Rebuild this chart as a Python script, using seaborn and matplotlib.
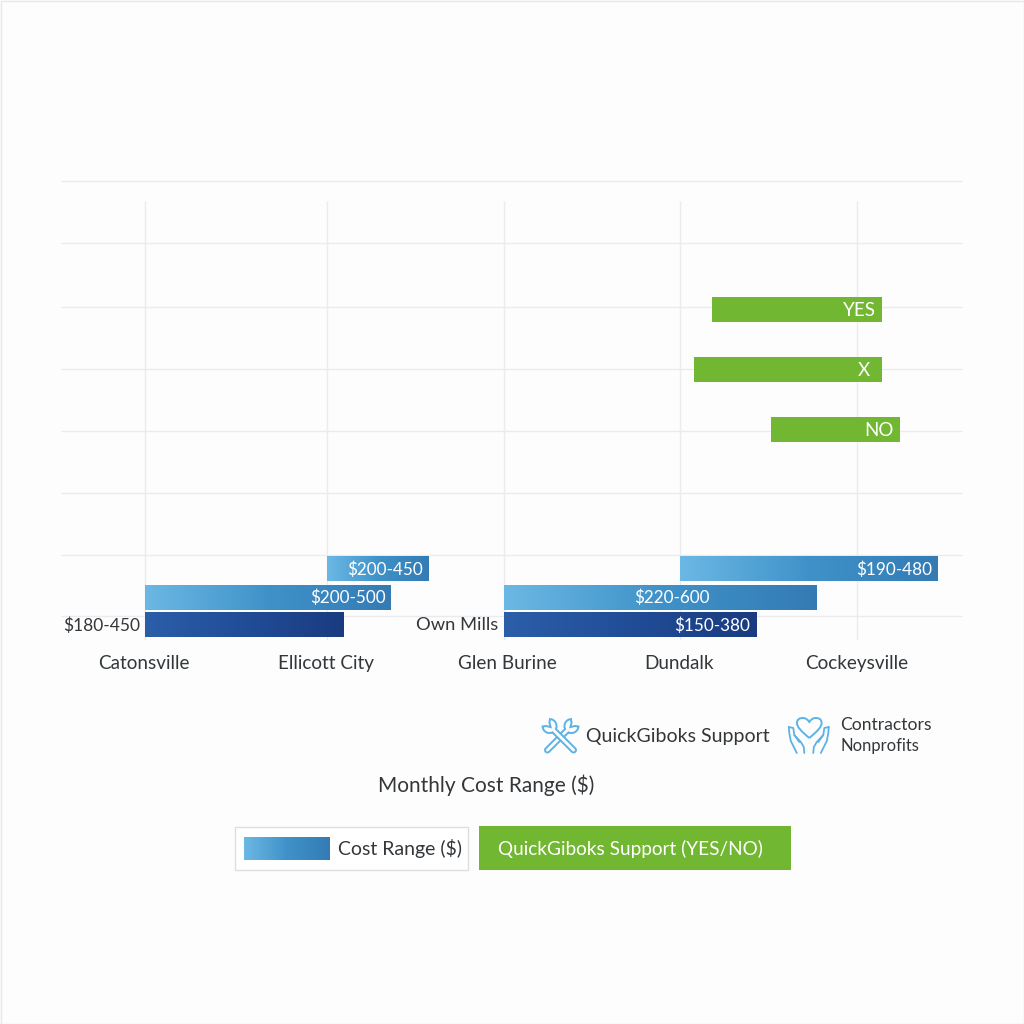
import numpy as np
import matplotlib
matplotlib.use("Agg")
import matplotlib.pyplot as plt
from matplotlib.colors import LinearSegmentedColormap
from matplotlib.patches import Rectangle, Polygon, PathPatch
from matplotlib.path import Path
from matplotlib.transforms import ScaledTranslation
import seaborn as sns

sns.set_theme(style="white")
plt.rcParams["font.family"] = ["Lato", "DejaVu Sans"]

# Town axis
towns = ["Catonsville", "Ellicott City", "Glen Burine", "Dundalk", "Cockeysville"]
town_positions = [0.0, 1.022, 2.017, 3.006, 4.0]
town_label_nudge = [-1, -1, 3, -1, 0]

# Cost range bars
dark_left = [0.0, 2.017]
dark_right = [1.113, 3.438]
dark_row = -0.13
dark_labels = ["", "$150-380"]

mid_left = [0.0, 2.017]
mid_right = [1.382, 3.770]
mid_row = 0.31
mid_labels = ["$200-500", "$220-600"]

top_left = [1.022, 3.006]
top_right = [1.590, 4.455]
top_row = 0.77
top_labels = ["$200-450", "$190-480"]

# QuickBooks support bars
support_left = [3.185, 3.084, 3.517]
support_right = [4.140, 4.140, 4.242]
support_rows = [4.955, 3.985, 3.02]
support_labels = ["YES", "X", "NO"]

grid_rows = [0.01, 1, 2, 3, 4, 5, 6.03, 7.03]

BG = "#fdfdfd"
GRID = "#e9ebee"
TEXT = "#33373a"
GREEN = "#72b731"
light_cmap = LinearSegmentedColormap.from_list("light", ["#6cb8e4", "#3f92c9", "#347bb4"])
navy_cmap = LinearSegmentedColormap.from_list("navy", ["#2c5ea9", "#214d97", "#1a3b80"])

fig = plt.figure(figsize=(10.24, 10.24), dpi=100, facecolor=BG)
W = H = 1024.0
ax_left, ax_right, ax_top, ax_bottom = 61, 962, 180, 640
ax = fig.add_axes([ax_left / W, 1 - ax_bottom / H, (ax_right - ax_left) / W, (ax_bottom - ax_top) / H])
ax.set_facecolor("none")

xlim = ((ax_left - 145.0) / 178.0, (ax_right - 145.0) / 178.0)
ylim = ((616.5 - ax_bottom) / 62.0, (616.5 - ax_top) / 62.0)
BAR_H = 0.395


def draw_bar(left, right, row, color, cmap=None):
    sns.barplot(x=[right - left], y=[row], left=left, orient="h", native_scale=True,
                width=BAR_H, color=color, saturation=1, errorbar=None, ax=ax,
                linewidth=0, zorder=3)
    ax.set_xlim(*xlim)
    ax.set_ylim(*ylim)
    if cmap is not None:
        gradient = np.linspace(0, 1, 256).reshape(1, -1)
        ax.imshow(gradient, cmap=cmap, aspect="auto", zorder=4, interpolation="bilinear",
                  extent=(left, right, row - BAR_H / 2, row + BAR_H / 2))
        ax.set_xlim(*xlim)
        ax.set_ylim(*ylim)


for l, r in zip(dark_left, dark_right):
    draw_bar(l, r, dark_row, "#214d97", navy_cmap)
for l, r in zip(mid_left, mid_right):
    draw_bar(l, r, mid_row, "#3f92c9", light_cmap)
for l, r in zip(top_left, top_right):
    draw_bar(l, r, top_row, "#3f92c9", light_cmap)
for l, r, row in zip(support_left, support_right, support_rows):
    draw_bar(l, r, row, GREEN)

# The vertical gridlines stop short of the top rule
ax.hlines(grid_rows, *xlim, color=GRID, lw=1.0, zorder=1, clip_on=False)
ax.vlines(town_positions, ylim[0], (616.5 - 201) / 62.0, color=GRID, lw=1.0, zorder=1)

for s in ax.spines.values():
    s.set_visible(False)
ax.set_xlabel("")
ax.set_ylabel("")
ax.set_yticks([])
ax.set_xticks(town_positions, towns)
ax.tick_params(axis="x", length=0, pad=11, labelsize=13.6, labelcolor=TEXT)
for tick_label, nudge in zip(ax.get_xticklabels(), town_label_nudge):
    tick_label.set_transform(tick_label.get_transform()
                             + ScaledTranslation(nudge / 100, 0, fig.dpi_scale_trans))

label_size = 12.3
inset = 0.03


def bar_label(x, row, text, ha="right", color="white", size=label_size):
    ax.text(x, row - 0.012, text, ha=ha, va="center", color=color, fontsize=size, zorder=6)


bar_label(dark_right[1] - 0.04, dark_row, dark_labels[1])
bar_label(mid_right[0] - inset, mid_row, mid_labels[0])
bar_label(2.96, mid_row, mid_labels[1], ha="center")
bar_label(top_right[0] - inset, top_row, top_labels[0])
bar_label(top_right[1] - inset, top_row, top_labels[1])
bar_label(support_right[0] - 0.035, support_rows[0], support_labels[0], size=13.5)
bar_label(support_right[1] - 0.1, support_rows[1], support_labels[1], ha="center", size=13.5)
bar_label(support_right[2] - 0.035, support_rows[2], support_labels[2], size=13.5)
bar_label(-0.03, dark_row, "$180-450", color=TEXT, size=12.5)
bar_label(1.985, dark_row, "Own Mills", color=TEXT, size=13.2)

# Overlay in figure pixels for the legend, caption and icons
ov = fig.add_axes([0, 0, 1, 1], facecolor="none", zorder=5)
ov.set_xlim(0, W)
ov.set_ylim(W, 0)
ov.axis("off")

ov.add_patch(Rectangle((0.5, 0.5), W - 1, W - 1, fill=False, ec="#e6e8e9", lw=1.0))

ICON = "#5cb3e6"


def wrench_outline():
    """Open-ended wrench, head towards negative v, in local (u, v) pixels."""
    head_v, r, half = -15.5, 7.0, 2.4
    a0 = np.arcsin(half / r)
    # Arc from the handle round to the jaw tip on each side of the head
    t_left = np.linspace(a0, np.pi - 0.85, 16)
    lu, lv = -r * np.sin(t_left), head_v + r * np.cos(t_left)
    ru, rv = -lu[::-1], lv[::-1]
    notch = [(-half, head_v - 2.5), (0, head_v + 1.5), (half, head_v - 2.5)]
    t_end = np.linspace(np.pi, 0, 10)
    end_u, end_v = half * np.cos(t_end), 18.5 + half * np.sin(t_end)
    pts = list(zip(lu, lv)) + notch + list(zip(ru, rv))
    pts += list(zip(-end_u, end_v))
    return np.array(pts)


def place_wrench(angle_deg, cx, cy):
    t = np.radians(angle_deg)
    rot = np.array([[np.cos(t), -np.sin(t)], [np.sin(t), np.cos(t)]])
    return wrench_outline() @ rot.T + np.array([cx, cy])


ov.add_patch(Polygon(place_wrench(45, 560.5, 737), closed=True, fc=BG, ec=ICON, lw=1.4))
ov.add_patch(Polygon(place_wrench(-45, 560.5, 737), closed=True, fc=BG, ec=ICON, lw=1.4))

# Heart held in two hands
heart = Path(
    [(809.3, 738), (801, 731), (797, 727), (797, 723),
     (797, 719), (800, 718), (803, 718),
     (806, 718), (808, 720), (809.3, 722),
     (810.6, 720), (812.6, 718), (815.6, 718),
     (818.6, 718), (821.6, 719), (821.6, 723),
     (821.6, 727), (817.6, 731), (809.3, 738)],
    [Path.MOVETO] + [Path.CURVE4] * 18)
ov.add_patch(PathPatch(heart, fill=False, ec=ICON, lw=1.4))
for sign in (-1, 1):
    cx = 808.8
    outer_x = [cx + sign * d for d in (20, 19.5, 18, 12)]
    outer_y = [727, 733, 741, 753]
    inner_x = [cx + sign * d for d in (20, 15.5, 14.5, 8, 5, 4.5)]
    inner_y = [727, 728, 735, 742, 747, 753]
    thumb_x = [cx + sign * d for d in (14.5, 9.5)]
    thumb_y = [735, 742]
    ov.plot(outer_x, outer_y, color=ICON, lw=1.3)
    ov.plot(inner_x, inner_y, color=ICON, lw=1.3)
    ov.plot(thumb_x, thumb_y, color=ICON, lw=1.3)

ov.text(586, 736.5, "QuickGiboks Support", fontsize=14, color=TEXT, va="center", ha="left")
ov.text(840.5, 724.5, "Contractors", fontsize=12.6, color=TEXT, va="center", ha="left")
ov.text(840.5, 745.5, "Nonprofits", fontsize=11.9, color=TEXT, va="center", ha="left")
ov.text(486, 785, "Monthly Cost Range ($)", fontsize=15, color=TEXT, va="center", ha="center")

# Legend
ov.add_patch(Rectangle((234.5, 826.5), 233, 43, fc="white", ec="#dcdfe0", lw=1.0))
ov.imshow(np.linspace(0, 1, 256).reshape(1, -1), cmap=light_cmap, aspect="auto",
          extent=(244, 330, 860, 837), zorder=3)
ov.set_xlim(0, W)
ov.set_ylim(W, 0)
ov.text(338, 848, "Cost Range ($)", fontsize=14, color=TEXT, va="center", ha="left")
ov.add_patch(Rectangle((479, 826), 312, 44, fc=GREEN, ec="none"))
ov.text(498, 848.5, "QuickGiboks Support (YES/NO)", fontsize=13.7, color="white", va="center", ha="left")

fig.savefig("out.png", dpi=100, facecolor=BG)
